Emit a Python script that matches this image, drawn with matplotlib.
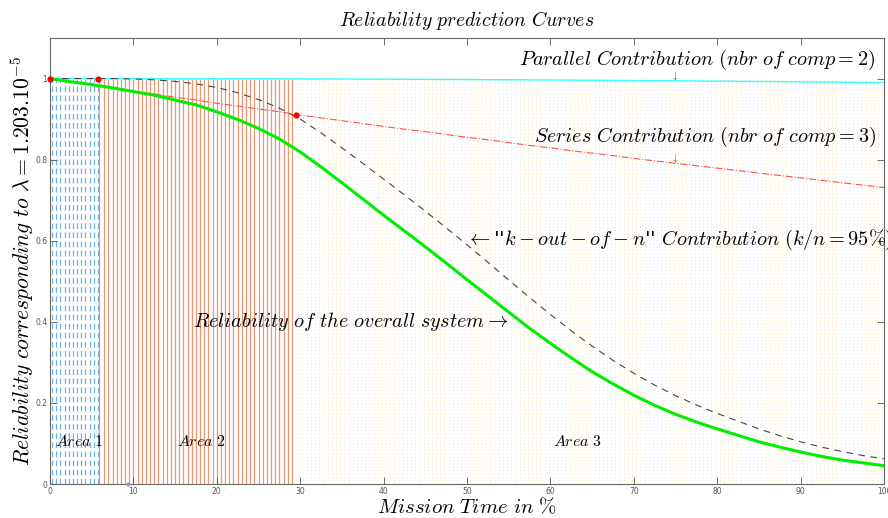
import numpy as np
import matplotlib
matplotlib.use("Agg")
import matplotlib.pyplot as plt

plt.rcParams['mathtext.fontset'] = 'cm'
plt.rcParams['font.family'] = ['DejaVu Sans']

# ---- data ----
mission_time = [0, 2.5, 5, 7.5, 10, 12.5, 15, 17.5, 20, 22.5, 25, 27.5, 30, 32.5, 35,
                37.5, 40, 42.5, 45, 47.5, 50, 52.5, 55, 57.5, 60, 62.5, 65, 67.5, 70,
                72.5, 75, 77.5, 80, 82.5, 85, 87.5, 90, 92.5, 95, 97.5, 100]
parallel_rel = [1.0, 1.0, 1.0, 0.9999, 0.9999, 0.9998, 0.9998, 0.9997, 0.9996, 0.9995,
                0.9994, 0.9992, 0.9991, 0.9989, 0.9988, 0.9986, 0.9984, 0.9982, 0.998,
                0.9977, 0.9975, 0.9972, 0.997, 0.9967, 0.9964, 0.9961, 0.9958, 0.9954,
                0.9951, 0.9947, 0.9944, 0.994, 0.9936, 0.9932, 0.9928, 0.9923, 0.9919,
                0.9914, 0.991, 0.9905, 0.990]
series_rel = [1.0, 0.992, 0.985, 0.977, 0.969, 0.962, 0.954, 0.947, 0.939, 0.932, 0.925,
              0.918, 0.910, 0.903, 0.896, 0.889, 0.882, 0.875, 0.869, 0.862, 0.855,
              0.849, 0.842, 0.835, 0.829, 0.822, 0.816, 0.810, 0.803, 0.797, 0.791,
              0.785, 0.779, 0.773, 0.767, 0.761, 0.755, 0.749, 0.743, 0.737, 0.731]
kofn_rel = [1.0, 1.0, 1.0, 1.0, 0.999, 0.997, 0.993, 0.987, 0.978, 0.965, 0.948, 0.927,
            0.900, 0.866, 0.829, 0.791, 0.752, 0.713, 0.673, 0.632, 0.590, 0.547, 0.503,
            0.460, 0.418, 0.378, 0.340, 0.305, 0.273, 0.244, 0.218, 0.195, 0.174, 0.155,
            0.136, 0.119, 0.104, 0.091, 0.080, 0.070, 0.062]
overall_rel = [1.0, 0.992, 0.985, 0.977, 0.968, 0.959, 0.947, 0.935, 0.918, 0.899, 0.877,
               0.851, 0.819, 0.782, 0.743, 0.703, 0.663, 0.624, 0.585, 0.545, 0.504,
               0.464, 0.424, 0.384, 0.347, 0.311, 0.277, 0.247, 0.219, 0.194, 0.172,
               0.153, 0.136, 0.120, 0.104, 0.091, 0.079, 0.068, 0.059, 0.052, 0.045]

area_bounds = [0.0, 5.76, 29.5, 100.0]
area_names = ["Area\\ 1", "Area\\ 2", "Area\\ 3"]
marker_x = [0.0, 5.76, 29.5]
marker_y = [1.0, 1.0, 0.91]
hatch_step = 0.5

x_ticks = [0, 10, 20, 30, 40, 50, 60, 70, 80, 90, 100]
y_ticks = [0, 0.2, 0.4, 0.6, 0.8, 1.0]

# ---- figure ----
fig = plt.figure(figsize=(8.88, 5.18), dpi=100)
ax = fig.add_axes([50/888, 1-484/518, 834/888, 446/518])

# area hatching (vertical lines from 0 to 1)
hx = np.arange(0, 100 + 1e-9, hatch_step)
a1 = hx[hx < area_bounds[1]]
a2 = hx[(hx >= area_bounds[1]) & (hx < area_bounds[2])]
a3 = hx[hx >= area_bounds[2]]
ax.vlines(a1 + 0.25, 0, 1, colors='#0072BD', alpha=0.55, lw=0.9,
          linestyles=(0, (4.5, 2.8)), zorder=1)
ax.vlines(np.r_[area_bounds[1] + 0.15, a2[1:]], 0, 1, colors='#D95319', alpha=0.6, lw=0.9, zorder=1)
ax.vlines(a3 + 0.3, 0, 1, colors='#EDB120', alpha=0.45, lw=0.6,
          linestyles=(0, (1, 3)), zorder=1)

# curves
ax.plot(mission_time, parallel_rel, color='#33FFFF', lw=1.0, zorder=3)
ax.plot(mission_time, series_rel, color='#FF5050', lw=0.8, ls='-.', zorder=3)
ax.plot(mission_time, kofn_rel, color='#444444', lw=0.8, ls=(0, (6, 5)), zorder=3)
ax.plot(mission_time, overall_rel, color='#00EE00', lw=2.2, zorder=4)
ax.plot(marker_x, marker_y, 'o', color='red', ms=3.5, ls='none', zorder=5, clip_on=False)
ax.plot([9.35], [0.0], 'o', color='#999999', ms=2, zorder=5, clip_on=False)

# annotations
fs = 14.6
ax.text(99.0, 1.045, r"$Parallel\ Contribution\ (nbr\ of\ comp=2)$", ha='right', va='center', fontsize=fs)
ax.text(75, 1.006, r"$\downarrow$", ha='center', va='center', fontsize=7, color='#333333')
ax.text(99.0, 0.857, r"$Series\ Contribution\ (nbr\ of\ comp=3)$", ha='right', va='center', fontsize=fs)
ax.text(75, 0.804, r"$\downarrow$", ha='center', va='center', fontsize=7, color='#333333')
ax.text(49.9, 0.601, r"$\leftarrow$''$k-out-of-n$'' $Contribution\ (k/n=95\%)$",
        ha='left', va='center', fontsize=fs, clip_on=False)
ax.text(17.1, 0.401, r"$Reliability\ of\ the\ overall\ system\rightarrow$", ha='left', va='center', fontsize=fs)
area_x = [0.6, 15.2, 60.3]
for xx, nm in zip(area_x, area_names):
    ax.text(xx, 0.106, "$" + nm + "$", ha='left', va='center', fontsize=11.5)

ax.set_title(r"$Reliability\ prediction\ Curves$", fontsize=14.2, pad=9)
ax.set_xlabel(r"$Mission\ Time\ in\ \%$", fontsize=15, labelpad=1)
ax.set_ylabel(r"$Reliability\ corresponding\ to\ \lambda=1.203.10^{-5}$", fontsize=15.6, labelpad=-1)

ax.set_xlim(0, 100)
ax.set_ylim(0, 1.1)
ax.set_xticks(x_ticks)
ax.set_yticks(y_ticks)
ax.set_xticklabels([str(v) for v in x_ticks])
ax.set_yticklabels(['0', '0.2', '0.4', '0.6', '0.8', '1'])
ax.tick_params(direction='in', top=True, right=True, length=5, width=0.6,
               labelsize=5.5, colors='#555555', pad=2)
for s in ax.spines.values():
    s.set_color('#666666')
    s.set_linewidth(0.8)

fig.savefig("out.png", dpi=100)
